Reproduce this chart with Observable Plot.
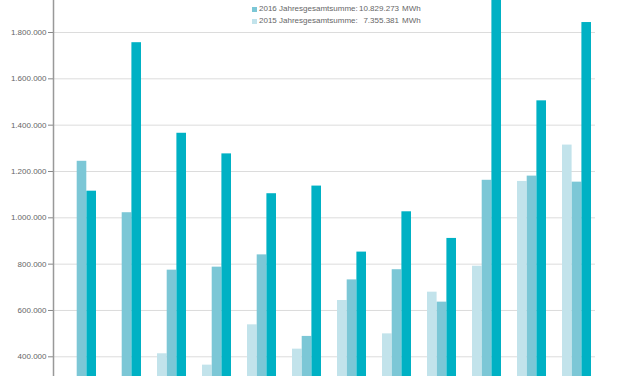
<!DOCTYPE html>
<html>
<head>
<meta charset="utf-8">
<script src="https://cdn.jsdelivr.net/npm/d3@7"></script>
<script src="https://cdn.jsdelivr.net/npm/@observablehq/plot@0.6"></script>
<style>
  html, body { margin: 0; padding: 0; background: #fff; }
  #wrap { position: relative; width: 627px; height: 376px; overflow: hidden; font-family: "Liberation Sans", Arial, sans-serif; }
  #wrap svg { display: block; }
  #legend { position: absolute; left: 252px; top: 3px; font-size: 8px; color: #666; line-height: 12.3px; }
  #legend .row { display: flex; align-items: center; white-space: nowrap; }
  #legend .sw { width: 5px; height: 5px; margin-right: 2px; }
  #legend .lab { width: 100px; }
  #legend .num { width: 40px; text-align: right; margin-right: 3px; }
</style>
</head>
<body>
<div id="wrap"><div id="legend"></div></div>
<script>
const months = ["Jan", "Feb", "Mär", "Apr", "Mai", "Jun", "Jul", "Aug", "Sep", "Okt", "Nov", "Dez"];
const v2015 = [270000, 255000, 413000, 364000, 538000, 433000, 643000, 499000, 679000, 791000, 1157000, 1314000];
const v2016 = [1244000, 1022000, 774000, 787000, 840000, 488000, 732000, 776000, 636000, 1162000, 1180000, 1154000];
const v2017 = [1115000, 1756000, 1365000, 1276000, 1104000, 1137000, 852000, 1026000, 911000, 2050000, 1505000, 1843000];
const yTicks = [400000, 600000, 800000, 1000000, 1200000, 1400000, 1600000, 1800000];
const legendItems = [
  {label: "2016 Jahresgesamtsumme:", value: "10.829.273", unit: "MWh", color: "#7cc7d6"},
  {label: "2015 Jahresgesamtsumme:", value: "7.355.381", unit: "MWh", color: "#c2e3eb"}
];
const colors = {c2015: "#c2e3eb", c2016: "#7cc7d6", c2017: "#00b1c4"};

const de = d3.formatLocale({decimal: ",", thousands: ".", grouping: [3], currency: ["", "€"]});
const fmt = de.format(",d");

const d15 = months.map((m, i) => ({month: m, value: v2015[i]}));
const d16 = months.map((m, i) => ({month: m, value: v2016[i]}));
const d17 = months.map((m, i) => ({month: m, value: v2017[i]}));

const bw = 9.7;
const chart = Plot.plot({
  width: 627,
  height: 376,
  marginLeft: 53,
  marginRight: 32,
  marginTop: 0,
  marginBottom: 0,
  style: {fontFamily: "Liberation Sans, Arial, sans-serif", fontSize: "8px", color: "#666", background: "#fff"},
  x: {type: "band", domain: months, paddingInner: 0.355, paddingOuter: 0.186, align: 0.77, axis: null},
  y: {domain: [314950, 1938150], axis: null},
  marks: [
    Plot.gridY(yTicks, {stroke: "#dcdcdc", strokeOpacity: 1}),
    Plot.barY(d15, {x: "month", y: "value", fill: colors.c2015, insetRight: 2 * bw, clip: true}),
    Plot.barY(d16, {x: "month", y: "value", fill: colors.c2016, insetLeft: bw, insetRight: bw, clip: true}),
    Plot.barY(d17, {x: "month", y: "value", fill: colors.c2017, insetLeft: 2 * bw, clip: true}),
    Plot.axisY(yTicks, {tickFormat: fmt, tickSize: 5, tickPadding: 2, stroke: "#888", fill: "#666", fontSize: 8, label: null}),
    Plot.frame({anchor: "left", stroke: "#999", strokeWidth: 1.5})
  ]
});
document.getElementById("wrap").insertBefore(chart, document.getElementById("legend"));

const lg = document.getElementById("legend");
for (const it of legendItems) {
  const row = document.createElement("div");
  row.className = "row";
  row.innerHTML = `<span class="sw" style="background:${it.color}"></span><span class="lab">${it.label}</span><span class="num">${it.value}</span><span>${it.unit}</span>`;
  lg.appendChild(row);
}
</script>
</body>
</html>
